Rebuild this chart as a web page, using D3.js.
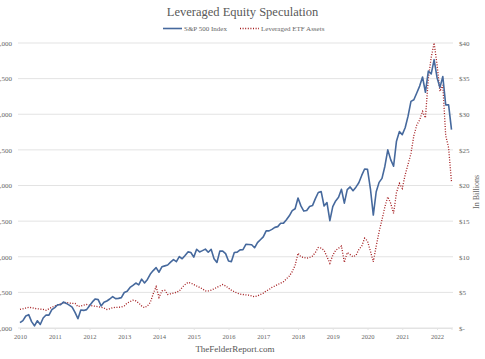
<!DOCTYPE html>
<html><head><meta charset="utf-8">
<script src="https://cdn.jsdelivr.net/npm/d3@7"></script>
<style>
html,body{margin:0;padding:0;background:#fff;}
svg{display:block;font-family:"Liberation Serif","DejaVu Serif",serif;}
</style></head>
<body>
<svg id="c" width="485" height="359"></svg>
<script>
const years = ["2010","2011","2012","2013","2014","2015","2016","2017","2018","2019","2020","2021","2022"];
const leftTicks = [1000,1500,2000,2500,3000,3500,4000,4500,5000];
const rightTicks = [0,5,10,15,20,25,30,35,40];
// Monthly S&P 500 closes, Jan 2010 - Jun 2022
const sp500 = [
1074,1104,1169,1187,1089,1031,1102,1049,1141,1183,1181,1258,
1286,1327,1326,1364,1345,1321,1292,1219,1131,1253,1247,1258,
1312,1366,1408,1398,1310,1362,1379,1407,1441,1412,1416,1426,
1498,1515,1569,1598,1631,1606,1686,1633,1682,1757,1806,1848,
1783,1859,1872,1884,1924,1960,1931,2003,1972,2018,2068,2059,
1995,2105,2068,2086,2107,2063,2104,1972,1920,2079,2080,2044,
1940,1932,2060,2065,2097,2099,2174,2171,2168,2126,2199,2239,
2279,2364,2363,2384,2412,2423,2470,2472,2519,2575,2648,2674,
2824,2714,2641,2648,2705,2718,2816,2902,2914,2712,2760,2507,
2704,2784,2834,2946,2752,2942,2980,2926,2977,3038,3141,3231,
3226,2954,2585,2912,3044,3100,3271,3500,3363,3270,3622,3756,
3714,3811,3973,4181,4204,4298,4395,4523,4308,4605,4567,4766,
4516,4374,4530,4132,4132,3785];
// Leveraged ETF assets, $ billions
const etf = [
2.6,2.7,2.8,2.9,2.85,2.75,2.7,2.65,2.6,2.5,2.7,2.9,
3.1,3.2,3.4,3.55,3.6,3.5,3.45,3.45,3.0,3.1,3.2,3.3,
3.2,3.1,3.05,3.0,2.9,2.8,2.6,2.7,2.85,2.9,2.9,2.95,
3.1,3.5,3.7,3.9,3.8,3.5,3.1,2.85,3.1,3.6,4.8,5.8,
4.3,5.2,5.3,4.7,4.8,4.9,5.0,5.2,5.7,6.1,6.4,6.3,
6.1,5.9,5.7,5.5,5.2,5.2,5.3,5.5,5.7,5.9,6.1,5.9,
5.6,5.3,5.1,4.9,4.75,4.7,4.65,4.6,4.5,4.4,4.5,4.7,
4.9,5.2,5.4,5.7,5.9,6.1,6.3,6.5,6.9,7.3,7.9,8.8,
10.5,10.0,9.9,9.8,9.9,10.1,10.6,11.3,11.2,10.9,10.0,9.1,
10.2,10.9,11.2,11.5,9.2,10.6,10.3,10.0,10.2,11.0,11.5,12.6,
12.2,10.8,9.3,11.5,13.5,15.2,17.0,18.4,17.5,16.1,19.0,20.3,
19.6,21.5,23.0,24.5,27.0,28.5,29.2,30.4,29.5,35.0,38.0,40.0,
37.0,33.2,34.1,27.0,25.3,20.5];

const svg = d3.select("#c");
const x = d3.scaleLinear().domain([0, 149]).range([20, 451.5]);
const yL = d3.scaleLinear().domain([1000, 5000]).range([328, 43]);
const yR = d3.scaleLinear().domain([0, 40]).range([328, 43]);

// gridlines
svg.append("g").selectAll("line").data(leftTicks).join("line")
  .attr("x1", 18).attr("x2", 453)
  .attr("y1", d => yL(d)).attr("y2", d => yL(d))
  .attr("stroke", "#e3e3e3").attr("stroke-width", 1);

// left axis
const la = svg.append("g").attr("transform", "translate(12,0)")
  .call(d3.axisLeft(yL).tickValues(leftTicks).tickSize(0).tickPadding(0).tickFormat(d3.format(",")));
la.select(".domain").remove();
la.selectAll("text").attr("fill", "#666").style("font-size", "7px").style("font-family", "Liberation Serif, serif");

// right axis
const ra = svg.append("g").attr("transform", "translate(459,0)")
  .call(d3.axisRight(yR).tickValues(rightTicks).tickSize(0).tickPadding(0).tickFormat(d => d === 0 ? "$-" : "$" + d));
ra.select(".domain").remove();
ra.selectAll("text").attr("fill", "#666").style("font-size", "7px").style("font-family", "Liberation Serif, serif");

// x axis
const xa = svg.append("g").attr("transform", "translate(0,328)")
  .call(d3.axisBottom(x).tickValues(years.map((d, i) => i * 12)).tickSize(2).tickPadding(4).tickFormat((d, i) => years[i]));
xa.select(".domain").attr("stroke", "#e3e3e3");
xa.selectAll("line").attr("stroke", "#e3e3e3");
xa.selectAll("text").attr("fill", "#666").style("font-size", "6.5px").style("font-family", "Liberation Serif, serif");

// lines
const lineL = d3.line().x((d, i) => x(i)).y(d => yL(d));
const lineR = d3.line().x((d, i) => x(i)).y(d => yR(d));
svg.append("path").datum(etf).attr("d", lineR).attr("fill", "none")
  .attr("stroke", "#a3191c").attr("stroke-width", 1.3).attr("stroke-dasharray", "1,1.6");
svg.append("path").datum(sp500).attr("d", lineL).attr("fill", "none")
  .attr("stroke", "#46699d").attr("stroke-width", 1.6).attr("stroke-linejoin", "round");

// title
svg.append("text").attr("x", 242.5).attr("y", 16).attr("text-anchor", "middle")
  .attr("fill", "#595959").style("font-size", "12.5px").text("Leveraged Equity Speculation");

// legend
svg.append("line").attr("x1", 163).attr("x2", 182).attr("y1", 28.5).attr("y2", 28.5)
  .attr("stroke", "#46699d").attr("stroke-width", 1.6);
svg.append("text").attr("x", 184).attr("y", 31).attr("fill", "#666").style("font-size", "7px").text("S&P 500 Index");
svg.append("line").attr("x1", 240).attr("x2", 259).attr("y1", 28.5).attr("y2", 28.5)
  .attr("stroke", "#a3191c").attr("stroke-width", 1.3).attr("stroke-dasharray", "1,1.6");
svg.append("text").attr("x", 261).attr("y", 31).attr("fill", "#666").style("font-size", "7px").text("Leveraged ETF Assets");

// right axis title
svg.append("text").attr("transform", "translate(479,192) rotate(-90)").attr("text-anchor", "middle")
  .attr("fill", "#666").style("font-size", "8px").text("In Billions");

// footer
svg.append("text").attr("x", 235).attr("y", 352).attr("text-anchor", "middle")
  .attr("fill", "#555").style("font-size", "9px").text("TheFelderReport.com");
</script>
</body></html>
